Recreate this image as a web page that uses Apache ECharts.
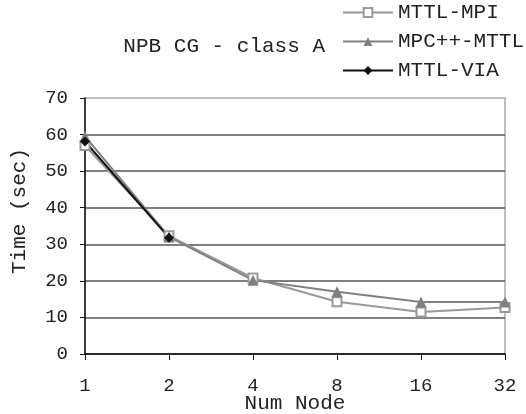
<!DOCTYPE html>
<html>
<head>
<meta charset="utf-8">
<script src="https://cdn.jsdelivr.net/npm/echarts@6/dist/echarts.min.js"></script>
<style>html,body{margin:0;padding:0;background:#fff}#c{width:526px;height:414px}</style>
</head>
<body>
<div id="c"></div>
<script>
const categories = ['1', '2', '4', '8', '16', '32'];
const mttlMpi = [57, 32.3, 20.8, 14.3, 11.5, 12.7];
const mpcMttl = [59.5, 32, 20.2, 17, 14.2, 14.2];
const mttlVia = [58.1, 31.8, null, null, null, null];
const yTicks = { min: 0, max: 70, interval: 10 };

const FONT = 'Liberation Mono';
const chart = echarts.init(document.getElementById('c'));
chart.setOption({
  animation: false,
  backgroundColor: '#fff',
  title: {
    text: 'NPB CG - class A',
    right: 196, top: 31,
    textStyle: { fontFamily: FONT, fontSize: 21, fontWeight: 'normal', color: '#222' }
  },
  legend: {
    orient: 'vertical', left: 342, top: 2, padding: 0,
    itemWidth: 50, itemHeight: 11, itemGap: 8,
    textStyle: { fontFamily: FONT, fontSize: 21, lineHeight: 21, color: '#222' },
    data: ['MTTL-MPI', 'MPC++-MTTL', 'MTTL-VIA']
  },
  grid: { left: 85, right: 21, top: 98, bottom: 60, outerBoundsMode: 'none', containLabel: false,
          show: true, borderColor: '#aaa', borderWidth: 1.5 },
  xAxis: {
    type: 'category', data: categories, boundaryGap: false,
    name: 'Num Node', nameLocation: 'middle', nameGap: 39, nameMoveOverlap: false,
    nameTextStyle: { fontFamily: FONT, fontSize: 21, color: '#222' },
    axisLine: { lineStyle: { color: '#111', width: 1.5 } },
    axisTick: { inside: false, length: 6, lineStyle: { color: '#111' } },
    axisLabel: { fontFamily: FONT, fontSize: 19, color: '#222', margin: 22 },
    splitLine: { show: false }
  },
  yAxis: {
    type: 'value', min: yTicks.min, max: yTicks.max, interval: yTicks.interval,
    name: 'Time (sec)', nameLocation: 'middle', nameGap: 55, nameRotate: 90, nameMoveOverlap: false,
    nameTextStyle: { fontFamily: FONT, fontSize: 21, color: '#222', padding: [0, 0, 0, 30] },
    axisLine: { show: true, lineStyle: { color: '#111', width: 1.5 } },
    axisTick: { show: true, inside: false, length: 5, lineStyle: { color: '#111' } },
    axisLabel: { fontFamily: FONT, fontSize: 19, color: '#222', margin: 17 },
    splitLine: { show: true, showMaxLine: false, lineStyle: { color: '#555', width: 1.5 } }
  },
  series: [
    {
      name: 'MTTL-MPI', type: 'line', data: mttlMpi,
      symbol: 'rect', symbolSize: 9, showAllSymbol: true,
      lineStyle: { color: '#999', width: 2 },
      itemStyle: { color: '#fff', borderColor: '#999', borderWidth: 2 }
    },
    {
      name: 'MPC++-MTTL', type: 'line', data: mpcMttl,
      symbol: 'triangle', symbolSize: 11,
      lineStyle: { color: '#808080', width: 2 },
      itemStyle: { color: '#808080' }
    },
    {
      name: 'MTTL-VIA', type: 'line', data: mttlVia,
      symbol: 'diamond', symbolSize: 10,
      lineStyle: { color: '#111', width: 2 },
      itemStyle: { color: '#111' }
    }
  ]
});
</script>
</body>
</html>
